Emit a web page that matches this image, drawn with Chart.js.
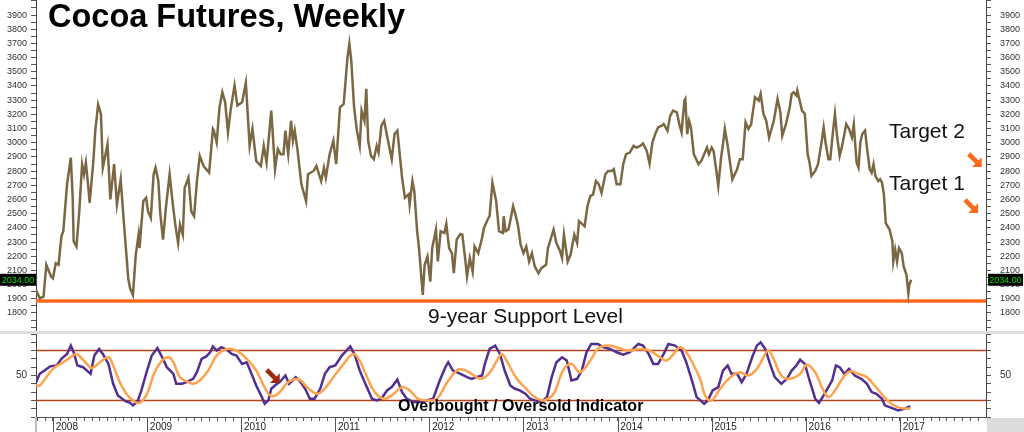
<!DOCTYPE html>
<html>
<head>
<meta charset="utf-8">
<script src="https://cdn.jsdelivr.net/npm/chart.js@4.4.1/dist/chart.umd.min.js"></script>
<style>
html, body { margin: 0; padding: 0; background: #fff; }
#wrap { position: relative; width: 1024px; height: 432px; overflow: hidden; font-family: "Liberation Sans", Arial, sans-serif; }
#priceBox { position: absolute; left: 0; top: 0; width: 1024px; height: 331px; }
#sep { position: absolute; left: 0; top: 331px; width: 1024px; height: 3px; background: #dedede; }
#oscBox { position: absolute; left: 0; top: 334px; width: 1024px; height: 98px; }
.lbl { position: absolute; white-space: nowrap; color: #111; line-height: 1; }
#title { left: 48px; top: 0px; font-size: 32.5px; font-weight: bold; color: #000; }
#t2 { left: 889px; top: 120px; font-size: 21px; }
#t1 { left: 889px; top: 172px; font-size: 21px; }
#support { left: 428px; top: 305px; font-size: 21px; }
#obos { left: 398px; top: 398px; font-size: 16px; font-weight: bold; color: #000; }
</style>
</head>
<body>
<div id="wrap">
  <div id="priceBox"><canvas id="priceCanvas" width="1024" height="331"></canvas></div>
  <div id="sep"></div>
  <div id="oscBox"><canvas id="oscCanvas" width="1024" height="98"></canvas></div>
  <div class="lbl" id="title">Cocoa Futures, Weekly</div>
  <div class="lbl" id="t2">Target 2</div>
  <div class="lbl" id="t1">Target 1</div>
  <div class="lbl" id="support">9-year Support Level</div>
  <div class="lbl" id="obos">Overbought / Oversold Indicator</div>
</div>
<script>
// weekly closes (x = fractional year)
var priceDates = [
	2007.82,2007.86,2007.90,2007.93,2007.98,2008.00,2008.03,2008.06,2008.09,2008.11,
	2008.15,2008.19,2008.21,2008.22,2008.25,2008.28,2008.31,2008.33,2008.35,2008.38,
	2008.39,2008.43,2008.45,2008.48,2008.51,2008.53,2008.58,2008.61,2008.65,2008.68,
	2008.72,2008.75,2008.80,2008.82,2008.85,2008.88,2008.91,2008.92,2008.96,2008.99,
	2009.01,2009.04,2009.07,2009.09,2009.12,2009.14,2009.17,2009.20,2009.24,2009.27,
	2009.30,2009.33,2009.35,2009.38,2009.40,2009.44,2009.47,2009.50,2009.53,2009.56,
	2009.60,2009.66,2009.70,2009.71,2009.74,2009.77,2009.80,2009.83,2009.86,2009.89,
	2009.93,2009.96,2010.01,2010.05,2010.09,2010.12,2010.16,2010.21,2010.24,2010.27,
	2010.32,2010.36,2010.39,2010.42,2010.45,2010.47,2010.50,2010.53,2010.55,2010.57,
	2010.60,2010.64,2010.69,2010.71,2010.77,2010.80,2010.85,2010.88,2010.90,2010.94,
	2010.98,2011.01,2011.05,2011.09,2011.13,2011.15,2011.17,2011.20,2011.23,2011.26,
	2011.28,2011.31,2011.33,2011.35,2011.38,2011.41,2011.44,2011.46,2011.49,2011.52,
	2011.55,2011.60,2011.63,2011.66,2011.71,2011.74,2011.78,2011.79,2011.82,2011.84,
	2011.87,2011.89,2011.93,2011.95,2011.98,2012.01,2012.03,2012.07,2012.09,2012.12,
	2012.16,2012.18,2012.21,2012.24,2012.26,2012.29,2012.33,2012.35,2012.38,2012.40,
	2012.43,2012.46,2012.48,2012.52,2012.56,2012.58,2012.62,2012.64,2012.67,2012.71,
	2012.74,2012.78,2012.79,2012.81,2012.84,2012.86,2012.89,2012.91,2012.94,2012.97,
	2013.00,2013.03,2013.06,2013.09,2013.12,2013.16,2013.19,2013.24,2013.26,2013.32,
	2013.35,2013.39,2013.41,2013.43,2013.47,2013.50,2013.54,2013.57,2013.59,2013.63,
	2013.65,2013.68,2013.71,2013.74,2013.77,2013.80,2013.83,2013.87,2013.90,2013.94,
	2013.96,2013.99,2014.03,2014.06,2014.09,2014.13,2014.17,2014.20,2014.24,2014.27,
	2014.31,2014.34,2014.37,2014.40,2014.43,2014.47,2014.49,2014.53,2014.56,2014.59,
	2014.63,2014.66,2014.68,2014.71,2014.72,2014.74,2014.76,2014.78,2014.81,2014.86,
	2014.89,2014.92,2014.95,2014.97,2015.00,2015.02,2015.05,2015.07,2015.10,2015.12,
	2015.14,2015.17,2015.22,2015.27,2015.30,2015.33,2015.36,2015.39,2015.42,2015.46,
	2015.50,2015.52,2015.55,2015.58,2015.61,2015.66,2015.70,2015.73,2015.75,2015.79,
	2015.83,2015.85,2015.87,2015.90,2015.91,2015.96,2015.99,2016.02,2016.04,2016.06,
	2016.10,2016.13,2016.17,2016.19,2016.21,2016.24,2016.26,2016.29,2016.31,2016.33,
	2016.36,2016.39,2016.43,2016.46,2016.49,2016.51,2016.54,2016.56,2016.58,2016.60,
	2016.63,2016.65,2016.68,2016.70,2016.72,2016.74,2016.77,2016.79,2016.81,2016.83,
	2016.85,2016.89,2016.92,2016.93,2016.95,2016.97,2016.99,2017.02,2017.04,2017.07,
	2017.09,2017.10,2017.12
];
var priceValues = [
	1962,1903,1915,2140,2057,2045,2151,2140,2340,2376,
	2707,2895,2612,2305,2269,2517,2849,2778,2860,2659,
	2576,2872,3085,3269,3203,2824,2990,2600,2849,2565,
	2742,2470,2045,1974,1927,2210,2352,2257,2588,2612,
	2517,2470,2778,2824,2730,2506,2317,2541,2778,2588,
	2423,2293,2423,2352,2683,2754,2517,2482,2730,2907,
	2836,2789,3097,3085,3002,3250,3356,3285,3073,3238,
	3404,3262,3285,3423,2978,3097,2872,2836,2978,2860,
	3226,2813,2955,2919,2919,3085,2919,3155,3014,3085,
	2943,2707,2588,2778,2801,2836,2730,2824,2754,2919,
	3014,2849,3250,3274,3604,3699,3581,3250,3085,2978,
	3226,3155,3380,3014,2907,2884,2978,2931,3120,3155,
	3049,2884,3061,3085,2754,2612,2636,2565,2730,2659,
	2376,2257,1927,2140,2198,2021,2257,2388,2163,2376,
	2364,2428,2257,2222,2080,2317,2357,2352,2187,2057,
	2187,2092,2269,2222,2328,2399,2459,2482,2718,2588,
	2376,2364,2482,2376,2388,2450,2553,2506,2423,2281,
	2222,2269,2163,2222,2128,2080,2116,2140,2257,2388,
	2293,2234,2187,2352,2163,2210,2352,2293,2447,2423,
	2411,2553,2624,2636,2730,2707,2647,2778,2801,2801,
	2813,2707,2707,2849,2919,2931,2978,2966,2978,2995,
	2943,2853,3002,3061,3108,3120,3132,3085,3191,3226,
	3214,3120,3073,3297,3309,3061,3155,3108,2919,2849,
	2872,2919,2966,2919,2966,2943,2801,2695,2895,2990,
	3097,2980,2742,2813,2884,2884,3144,3097,3132,3321,
	3297,3345,3203,3155,3037,3155,3309,3214,3049,3132,
	3250,3345,3356,3333,3368,3226,3203,2919,2860,2766,
	2801,2849,3014,3108,3002,2884,2884,3085,3203,3061,
	2907,2990,3132,3097,3037,3127,2860,2824,3002,3061,
	3085,2966,2813,2789,2849,2766,2730,2742,2718,2636,
	2434,2388,2305,2163,2246,2163,2257,2222,2128,2069,
	1938,1998,2034
];

// fast line of the indicator (purple)
var fastDates = [
	2007.82,2007.86,2007.91,2007.97,2008.04,2008.09,2008.15,2008.19,2008.22,2008.26,
	2008.32,2008.38,2008.40,2008.44,2008.49,2008.53,2008.59,2008.64,2008.69,2008.77,
	2008.82,2008.85,2008.90,2008.94,2009.00,2009.05,2009.11,2009.17,2009.21,2009.28,
	2009.31,2009.37,2009.42,2009.49,2009.53,2009.58,2009.63,2009.67,2009.70,2009.74,
	2009.79,2009.85,2009.90,2009.95,2010.01,2010.06,2010.11,2010.16,2010.22,2010.25,
	2010.29,2010.32,2010.38,2010.41,2010.47,2010.51,2010.58,2010.62,2010.68,2010.73,
	2010.78,2010.84,2010.89,2010.94,2011.00,2011.07,2011.16,2011.21,2011.26,2011.32,
	2011.39,2011.44,2011.49,2011.55,2011.60,2011.66,2011.71,2011.76,2011.83,2011.90,
	2011.97,2012.04,2012.11,2012.17,2012.20,2012.25,2012.33,2012.40,2012.45,2012.50,
	2012.56,2012.59,2012.64,2012.70,2012.75,2012.80,2012.86,2012.91,2012.96,2013.02,
	2013.07,2013.12,2013.19,2013.25,2013.30,2013.35,2013.41,2013.46,2013.51,2013.57,
	2013.62,2013.67,2013.72,2013.79,2013.85,2013.92,2013.99,2014.06,2014.13,2014.22,
	2014.27,2014.33,2014.38,2014.43,2014.49,2014.54,2014.61,2014.68,2014.73,2014.79,
	2014.84,2014.88,2014.92,2014.96,2015.01,2015.07,2015.12,2015.17,2015.21,2015.27,
	2015.32,2015.37,2015.43,2015.48,2015.52,2015.57,2015.62,2015.67,2015.74,2015.80,
	2015.85,2015.90,2015.94,2015.99,2016.04,2016.10,2016.14,2016.19,2016.24,2016.28,
	2016.32,2016.36,2016.41,2016.46,2016.52,2016.59,2016.65,2016.70,2016.75,2016.81,
	2016.84,2016.91,2016.98,2017.05,2017.11
];
var fastValues = [
	42,52,56,61,62,70,76,86,78,62,
	60,54,52,74,82,76,64,40,26,19,
	17,14,19,32,56,74,83,70,60,52,
	40,40,42,46,54,70,73,78,85,80,
	84,81,76,74,64,66,52,38,24,16,
	20,34,40,42,50,40,48,44,34,22,
	22,34,52,60,62,74,85,74,56,40,
	22,20,22,32,36,45,30,22,18,18,
	20,22,44,60,66,56,52,48,46,48,
	50,64,82,86,76,56,38,34,32,28,
	22,20,18,24,48,66,72,68,44,46,
	56,78,88,88,84,82,78,75,78,88,
	86,76,64,64,76,88,86,80,66,44,
	24,20,16,20,32,36,56,62,52,52,
	42,52,72,86,90,82,64,48,40,46,
	56,62,69,64,44,22,17,26,36,44,
	62,60,52,58,50,46,40,30,28,22,
	14,11,8,10,13
];

// slow line of the indicator (orange)
var slowDates = [
	2007.82,2007.86,2007.93,2008.00,2008.11,2008.20,2008.25,2008.31,2008.36,2008.41,
	2008.50,2008.59,2008.64,2008.71,2008.78,2008.85,2008.92,2009.00,2009.08,2009.16,
	2009.23,2009.28,2009.35,2009.44,2009.49,2009.56,2009.65,2009.74,2009.85,2009.95,
	2010.06,2010.16,2010.23,2010.29,2010.34,2010.41,2010.48,2010.55,2010.62,2010.70,
	2010.80,2010.87,2010.98,2011.09,2011.19,2011.26,2011.33,2011.42,2011.51,2011.60,
	2011.71,2011.79,2011.88,2011.97,2012.08,2012.18,2012.29,2012.36,2012.45,2012.54,
	2012.63,2012.72,2012.77,2012.82,2012.93,2013.03,2013.12,2013.21,2013.32,2013.42,
	2013.51,2013.60,2013.71,2013.79,2013.88,2013.99,2014.11,2014.24,2014.34,2014.45,
	2014.52,2014.61,2014.66,2014.73,2014.82,2014.88,2014.93,2015.00,2015.09,2015.20,
	2015.30,2015.39,2015.48,2015.55,2015.60,2015.65,2015.74,2015.83,2015.94,2016.01,
	2016.10,2016.17,2016.24,2016.31,2016.40,2016.47,2016.56,2016.65,2016.73,2016.82,
	2016.91,2017.00,2017.11
];
var slowValues = [
	38,38,48,58,66,73,76,70,64,59,
	66,72,62,42,28,20,17,28,54,68,
	72,66,48,42,40,44,56,74,82,80,
	70,56,40,28,25,30,40,45,45,36,
	28,32,48,64,76,68,50,30,22,26,
	36,32,22,20,22,40,56,57,52,46,
	52,68,76,68,46,34,24,20,28,56,
	64,54,68,82,86,84,80,82,80,72,
	68,78,84,78,60,45,26,20,34,48,
	54,50,58,72,80,72,50,46,52,63,
	54,36,24,32,48,55,52,48,38,26,
	16,11,10
];

var supportLevel = 1885;
var targetLevels = [2829, 2505];        // Target 2, Target 1
var targetArrowDates = [2017.87, 2017.83];
var oscLevels = [80, 20];
var oscArrow = [2010.41, 41];
var priceTickLabels = [1800,1900,2000,2100,2200,2300,2400,2500,2600,2700,2800,2900,3000,3100,3200,3300,3400,3500,3600,3700,3800,3900];
var yearLabels = [2008,2009,2010,2011,2012,2013,2014,2015,2016,2017];

var xMin = 2007.82, xMax = 2017.915;
var priceMin = 1673, priceMax = 4006;
var fontFam = '"Liberation Sans", Arial, sans-serif';
Chart.defaults.font.family = fontFam;

function toPoints(xs, ys){
	var pts = [];
	for (var i = 0; i < xs.length; i++) { pts.push({x: xs[i], y: ys[i]}); }
	return pts;
}
function flatLine(v){ return [{x: xMin, y: v}, {x: xMax, y: v}]; }

// arrow pointing down-right, tip at (tx, ty)
function drawArrow(ctx, tx, ty, color, s){
	ctx.save();
	ctx.fillStyle = color;
	ctx.strokeStyle = color;
	ctx.lineWidth = s * 0.36;
	ctx.beginPath();
	ctx.moveTo(tx - s, ty - s);
	ctx.lineTo(tx - s * 0.35, ty - s * 0.35);
	ctx.stroke();
	ctx.beginPath();
	ctx.moveTo(tx, ty);
	ctx.lineTo(tx, ty - s * 0.75);
	ctx.lineTo(tx - s * 0.75, ty);
	ctx.closePath();
	ctx.fill();
	ctx.restore();
}

function priceTicks(scale){
	var t = [];
	for (var v = 1700; v <= 4000; v += 50) { t.push({value: v}); }
	scale.ticks = t;
}
function priceLabel(v){ return priceTickLabels.indexOf(v) >= 0 ? String(v) : ''; }

function priceAxis(pos, w, pad){
	return {
		position: pos, min: priceMin, max: priceMax,
		afterBuildTicks: priceTicks,
		afterFit: function(s){ s.width = w; s.paddingTop = 0; s.paddingBottom = 0; },
		ticks: { callback: priceLabel, autoSkip: false, padding: pad, color: '#333', font: {size: 9} },
		grid: { drawOnChartArea: false, tickLength: 5, tickColor: '#555' },
		border: { color: '#444' }
	};
}

var priceExtras = {
	id: 'priceExtras',
	afterDraw: function(chart){
		var ctx = chart.ctx, area = chart.chartArea, sx = chart.scales.x, sy = chart.scales.y;
		var last = priceValues[priceValues.length - 1];
		var y = sy.getPixelForValue(last);
		ctx.save();
		ctx.font = '9px ' + fontFam;
		ctx.textBaseline = 'middle';
		ctx.textAlign = 'center';
		ctx.fillStyle = '#000';
		ctx.fillRect(0, y - 6, area.left, 12);
		ctx.fillRect(area.right + 2, y - 6, 35, 12);
		ctx.fillStyle = '#00e000';
		ctx.fillText(last.toFixed(2), area.left / 2, y + 0.5);
		ctx.fillText(last.toFixed(2), area.right + 19.5, y + 0.5);
		ctx.restore();
		for (var i = 0; i < targetLevels.length; i++) {
			drawArrow(ctx, sx.getPixelForValue(targetArrowDates[i]), sy.getPixelForValue(targetLevels[i]), '#ff6a1a', 13);
		}
	}
};

new Chart(document.getElementById('priceCanvas'), {
	type: 'line',
	data: {
		datasets: [
			{ label: 'Cocoa', data: toPoints(priceDates, priceValues), borderColor: '#7b6843', borderWidth: 2.5, pointRadius: 0, tension: 0 },
			{ label: 'Support', data: flatLine(supportLevel), borderColor: '#ff6a1a', borderWidth: 3.5, pointRadius: 0 }
		]
	},
	options: {
		responsive: false, animation: false, events: [],
		layout: { padding: 0 },
		plugins: { legend: { display: false }, tooltip: { enabled: false } },
		scales: {
			x: { type: 'linear', min: xMin, max: xMax, display: false },
			y: priceAxis('left', 36, 4),
			y2: priceAxis('right', 38, 9)
		}
	},
	plugins: [priceExtras]
});

function oscAxis(pos, w, pad){
	return {
		position: pos, min: 0, max: 100,
		afterBuildTicks: function(scale){
			var t = [];
			for (var v = 0; v <= 100; v += 10) { t.push({value: v}); }
			scale.ticks = t;
		},
		afterFit: function(s){ s.width = w; s.paddingTop = 0; s.paddingBottom = 0; },
		ticks: { callback: function(v){ return v === 50 ? '50' : ''; }, autoSkip: false, padding: pad, color: '#333', font: {size: 10} },
		grid: { drawOnChartArea: false, tickLength: 5, tickColor: '#555' },
		border: { color: '#444' }
	};
}

var oscExtras = {
	id: 'oscExtras',
	afterDraw: function(chart){
		var ctx = chart.ctx, area = chart.chartArea, sx = chart.scales.x, sy = chart.scales.y;
		var W = chart.width, H = chart.height;
		ctx.save();
		ctx.fillStyle = '#dcdcdc';
		ctx.fillRect(area.right + 1, area.bottom + 1, W - area.right, H - area.bottom);
		ctx.strokeStyle = '#bdbdbd';
		ctx.lineWidth = 2;
		ctx.beginPath();
		ctx.moveTo(area.left, area.bottom);
		ctx.lineTo(area.left, H);
		ctx.stroke();
		ctx.strokeStyle = '#555';
		ctx.lineWidth = 1;
		yearLabels.forEach(function(yr){
			var px = Math.round(sx.getPixelForValue(yr)) + 0.5;
			ctx.beginPath();
			ctx.moveTo(px, area.bottom);
			ctx.lineTo(px, H);
			ctx.stroke();
		});
		ctx.restore();
		drawArrow(ctx, sx.getPixelForValue(oscArrow[0]), sy.getPixelForValue(oscArrow[1]), '#9c2a0c', 13);
	}
};

new Chart(document.getElementById('oscCanvas'), {
	type: 'line',
	data: {
		datasets: [
			{ label: 'Slow', data: toPoints(slowDates, slowValues), borderColor: '#ffa24d', borderWidth: 2.5, pointRadius: 0, tension: 0.4 },
			{ label: 'Fast', data: toPoints(fastDates, fastValues), borderColor: '#52308f', borderWidth: 2.5, pointRadius: 0, tension: 0 },
			{ label: 'Overbought', data: flatLine(oscLevels[0]), borderColor: '#b4441c', borderWidth: 1.5, pointRadius: 0 },
			{ label: 'Oversold', data: flatLine(oscLevels[1]), borderColor: '#b4441c', borderWidth: 1.5, pointRadius: 0 }
		]
	},
	options: {
		responsive: false, animation: false, events: [],
		layout: { padding: 0 },
		plugins: { legend: { display: false }, tooltip: { enabled: false } },
		scales: {
			x: {
				type: 'linear', min: xMin, max: xMax,
				afterBuildTicks: function(scale){
					var t = [];
					for (var i = 0; 2007 + (10 + i) / 12 <= xMax; i++) { t.push({value: 2007 + (10 + i) / 12}); }
					scale.ticks = t;
				},
				afterFit: function(s){ s.height = 15; s.paddingLeft = 0; s.paddingRight = 0; },
				ticks: {
					callback: function(v){
						var r = Math.round(v);
						return (Math.abs(v - r) < 1e-6 && yearLabels.indexOf(r) >= 0) ? ' ' + r : '';
					},
					align: 'start', autoSkip: false, maxRotation: 0, padding: 0, color: '#222', font: {size: 10}
				},
				grid: { drawOnChartArea: false, tickLength: 4, tickColor: '#555' },
				border: { color: '#555' }
			},
			y: oscAxis('left', 36, 4),
			y2: oscAxis('right', 38, 9)
		}
	},
	plugins: [oscExtras]
});
</script>
</body>
</html>
